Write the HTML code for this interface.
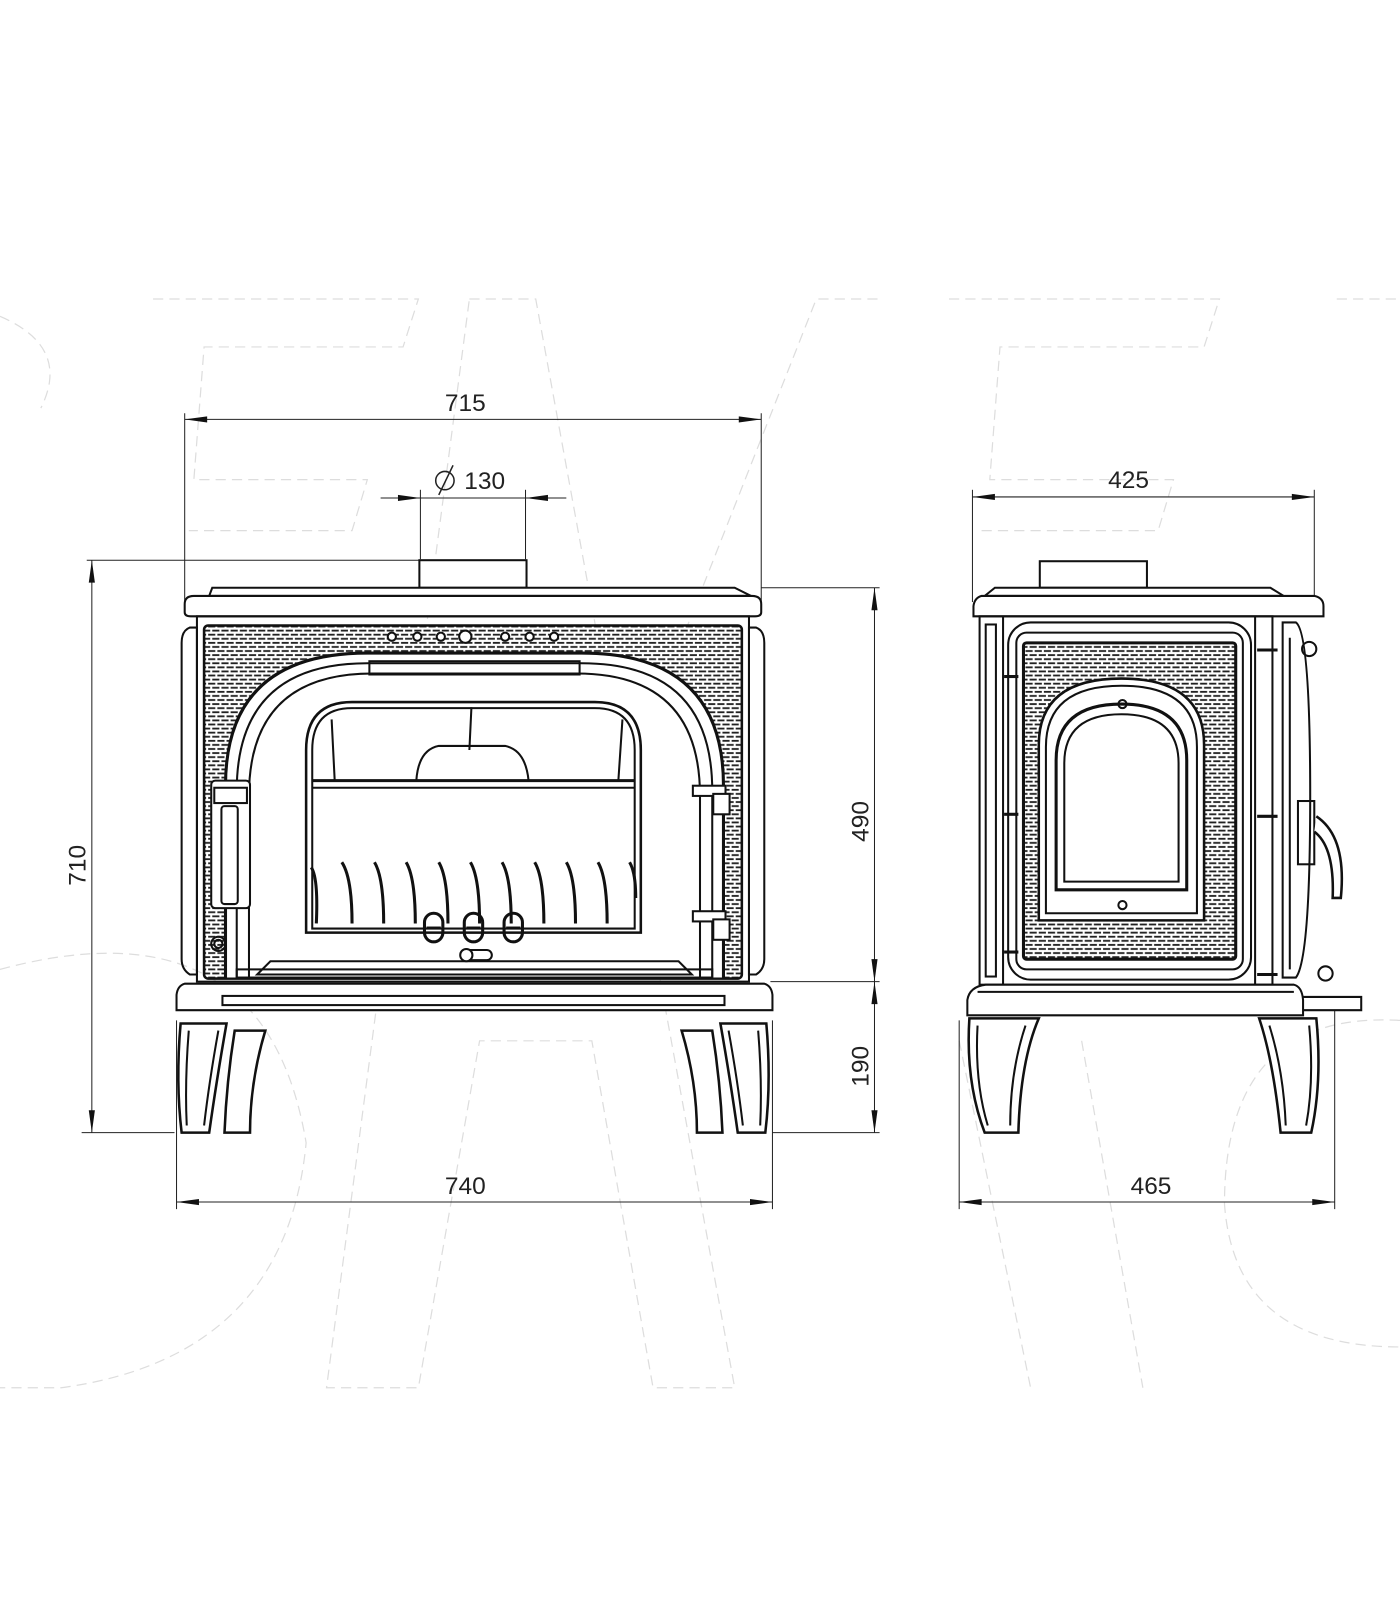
<!DOCTYPE html>
<html><head><meta charset="utf-8"><style>
html,body{margin:0;padding:0;background:#fff;}
svg{display:block;}
text{font-family:"Liberation Sans",Arial,sans-serif;font-size:24px;fill:#222;}
</style></head><body>
<svg width="1400" height="1600" viewBox="0 0 1372 1568" xmlns="http://www.w3.org/2000/svg">
<defs>
<pattern id="brick" width="18" height="8" patternUnits="userSpaceOnUse">
<rect width="18" height="8" fill="#fff"/>
<line x1="1" y1="2" x2="8" y2="2" stroke="#222" stroke-width="1.8"/>
<line x1="10" y1="2" x2="17" y2="2" stroke="#222" stroke-width="1.8"/>
<line x1="-4" y1="6" x2="4" y2="6" stroke="#222" stroke-width="1.8"/>
<line x1="6" y1="6" x2="13" y2="6" stroke="#222" stroke-width="1.8"/>
<line x1="15" y1="6" x2="22" y2="6" stroke="#222" stroke-width="1.8"/>
</pattern>
</defs>
<rect width="1372" height="1568" fill="#fff"/>
<g fill="none" stroke="#ddd" stroke-width="1.2" stroke-dasharray="10 6">
<path d="M150 293 L410 293 L395 340 L200 340 L190 470 L360 470 L345 520 L185 520"/>
<path d="M460 293 L525 293 L720 1360 L640 1360 L580 1020 L470 1020 L410 1360 L320 1360 Z"/>
<path d="M860 293 L800 293 L600 800"/>
<path d="M930 293 L1195 293 L1180 340 L980 340 L970 470 L1150 470 L1135 520 L960 520"/>
<path d="M1310 293 L1372 293"/>
<path d="M0 310 Q70 340 40 400"/>
<path d="M0 950 Q260 880 300 1120 Q280 1330 60 1360 L0 1360"/>
<path d="M1372 1000 Q1200 990 1200 1180 Q1210 1320 1372 1320"/>
<path d="M940 1020 L1010 1360 M1060 1020 L1120 1360"/>
</g>
<g stroke="#222" stroke-width="1" fill="none">
<line x1="181" y1="405" x2="181" y2="590"/><line x1="746" y1="405" x2="746" y2="590"/>
<line x1="181" y1="411" x2="746" y2="411"/>
<line x1="373" y1="488" x2="555" y2="488"/>
<line x1="412" y1="480" x2="412" y2="548"/><line x1="515" y1="480" x2="515" y2="548"/>
<line x1="85" y1="549" x2="411" y2="549"/>
<line x1="746" y1="576" x2="862" y2="576"/>
<line x1="755" y1="962" x2="862" y2="962"/>
<line x1="80" y1="1110" x2="171" y2="1110"/><line x1="757" y1="1110" x2="862" y2="1110"/>
<line x1="90" y1="549" x2="90" y2="1110"/>
<line x1="857" y1="576" x2="857" y2="1110"/>
<line x1="173" y1="1000" x2="173" y2="1185"/><line x1="757" y1="1000" x2="757" y2="1185"/>
<line x1="173" y1="1178" x2="757" y2="1178"/>
<line x1="953" y1="480" x2="953" y2="590"/><line x1="1288" y1="480" x2="1288" y2="600"/>
<line x1="953" y1="487" x2="1288" y2="487"/>
<line x1="940" y1="1000" x2="940" y2="1185"/><line x1="1308" y1="990" x2="1308" y2="1185"/>
<line x1="940" y1="1178" x2="1308" y2="1178"/>
</g>
<g fill="#111">
<path d="M181 411 l22 -3 v6z"/><path d="M746 411 l-22 -3 v6z"/>
<path d="M412 488 l-22 -3 v6z"/><path d="M515 488 l22 -3 v6z"/>
<path d="M90 549 l-3 22 h6z"/><path d="M90 1110 l-3 -22 h6z"/>
<path d="M857 576 l-3 22 h6z"/><path d="M857 962 l-3 -22 h6z"/>
<path d="M857 962 l-3 22 h6z"/><path d="M857 1110 l-3 -22 h6z"/>
<path d="M173 1178 l22 -3 v6z"/><path d="M757 1178 l-22 -3 v6z"/>
<path d="M953 487 l22 -3 v6z"/><path d="M1288 487 l-22 -3 v6z"/>
<path d="M940 1178 l22 -3 v6z"/><path d="M1308 1178 l-22 -3 v6z"/>
</g>
<text x="456" y="403" text-anchor="middle">715</text>
<text x="475" y="479" text-anchor="middle">130</text>
<g fill="none" stroke="#222" stroke-width="1.5"><circle cx="436" cy="471" r="9"/><line x1="430" y1="485" x2="444" y2="456"/></g>
<text transform="translate(84 848) rotate(-90)" text-anchor="middle">710</text>
<text transform="translate(851 805) rotate(-90)" text-anchor="middle">490</text>
<text transform="translate(851 1045) rotate(-90)" text-anchor="middle">190</text>
<text x="456" y="1170" text-anchor="middle">740</text>
<text x="1106" y="478" text-anchor="middle">425</text>
<text x="1128" y="1170" text-anchor="middle">465</text>

<g stroke="#111" stroke-width="2" fill="none">
<rect x="411" y="549" width="105" height="27" fill="#fff"/>
<path d="M208 576 L720 576 L736 584 L205 584 Z" fill="#fff"/>
<path d="M190 584 L737 584 Q746 584 746 592 L746 600 Q746 604 740 604 L187 604 Q181 604 181 600 L181 592 Q181 584 190 584 Z" fill="#fff"/>
<path d="M186 615 L193 615 L193 955 L186 955 Q178 950 178 940 L178 630 Q178 618 186 615 Z"/>
<path d="M741 615 L734 615 L734 955 L741 955 Q749 950 749 940 L749 630 Q749 618 741 615 Z"/>
<rect x="193" y="604" width="541" height="358"/>
<rect x="200" y="613" width="527" height="346" rx="4" fill="url(#brick)" stroke-width="2.5"/>
<path d="M221 958 L221 770 Q221 640 360 640 L570 640 Q709 640 709 770 L709 958" fill="#fff" stroke-width="3"/>
<path d="M232 958 L232 775 Q232 650 360 650 L570 650 Q698 650 698 775 L698 958" fill="#fff"/>
<path d="M244 958 L244 780 Q244 660 365 660 L565 660 Q686 660 686 780 L686 958"/>
<rect x="362" y="648" width="206" height="13"/>
<path d="M252 955 L265 942 L665 942 L678 955 Z"/>
<rect x="232" y="950" width="466" height="8"/>
<path d="M306 910 L306 735 Q306 694 345 694 L583 694 Q622 694 622 735 L622 910 Z" fill="#fff"/>
<path d="M300 914 L300 735 Q300 688 345 688 L583 688 Q628 688 628 735 L628 914 Z" stroke-width="2.5"/>
<line x1="306" y1="765" x2="622" y2="765" stroke-width="3"/><line x1="306" y1="772" x2="622" y2="772"/>
<path d="M408 765 Q410 735 430 731 L495 731 Q515 735 518 765"/>
<path d="M325 705 L328 765 M610 705 L606 765 M462 693 L460 735"/>
<g stroke-width="3">
<path d="M305 850 Q312 860 310 905"/><path d="M335 845 Q345 860 345 905"/><path d="M367 845 Q376 860 376 905"/><path d="M398 845 Q407 860 407 905"/><path d="M430 845 Q439 860 439 905"/><path d="M461 845 Q470 860 470 905"/><path d="M492 845 Q501 860 501 905"/><path d="M524 845 Q533 860 533 905"/><path d="M555 845 Q564 860 564 905"/><path d="M586 845 Q595 860 595 905"/><path d="M617 845 Q623 855 623 880"/>
</g>
<g stroke-width="3"><rect x="416" y="895" width="18" height="28" rx="9"/><rect x="455" y="895" width="18" height="28" rx="9"/><rect x="494" y="895" width="18" height="28" rx="9"/></g>
<line x1="418" y1="909" x2="432" y2="909"/><line x1="457" y1="909" x2="471" y2="909"/><line x1="496" y1="909" x2="510" y2="909"/>
<rect x="452" y="931" width="30" height="10" rx="5" fill="#fff"/><circle cx="457" cy="936" r="6" fill="#fff"/>
<g fill="#fff"><circle cx="384" cy="624" r="4"/><circle cx="409" cy="624" r="4"/><circle cx="432" cy="624" r="4"/><circle cx="456" cy="624" r="6"/><circle cx="495" cy="624" r="4"/><circle cx="519" cy="624" r="4"/><circle cx="543" cy="624" r="4"/></g>
<rect x="207" y="765" width="38" height="125" rx="4" fill="#fff"/>
<rect x="217" y="790" width="16" height="96" rx="3"/>
<rect x="210" y="772" width="32" height="15"/>
<circle cx="214" cy="925" r="7"/><circle cx="214" cy="925" r="4"/>
<g fill="#fff"><rect x="679" y="770" width="32" height="10"/><rect x="699" y="778" width="16" height="20"/><rect x="679" y="893" width="32" height="10"/><rect x="699" y="901" width="16" height="20"/></g>
<path d="M181 964 L749 964 Q756 966 757 975 L757 990 L173 990 L173 975 Q174 966 181 964 Z" fill="#fff"/>
<rect x="218" y="976" width="492" height="9"/>
<g stroke-width="2.5" fill="#fff">
<path d="M177 1003 L222 1003 Q212 1060 205 1110 L178 1110 Q172 1060 177 1003 Z"/>
<path d="M230 1010 L260 1010 Q245 1060 245 1110 L220 1110 Q222 1060 230 1010 Z"/>
<path d="M751 1003 L706 1003 Q716 1060 723 1110 L750 1110 Q756 1060 751 1003 Z"/>
<path d="M698 1010 L668 1010 Q683 1060 683 1110 L708 1110 Q706 1060 698 1010 Z"/>
</g>
<path d="M185 1010 Q181 1060 183 1103 M214 1010 Q205 1060 200 1103 M743 1010 Q747 1060 745 1103 M714 1010 Q723 1060 728 1103"/>
</g>

<g stroke="#111" stroke-width="2" fill="none">
<rect x="1019" y="550" width="105" height="26" fill="#fff"/>
<path d="M975 576 L1245 576 L1258 584 L965 584 Z" fill="#fff"/>
<path d="M962 584 L1288 584 Q1297 586 1297 594 L1297 604 L954 604 L954 594 Q955 586 962 584 Z" fill="#fff"/>
<rect x="960" y="604" width="287" height="361"/>
<rect x="966" y="612" width="10" height="345"/>
<line x1="983" y1="604" x2="983" y2="965"/><line x1="1230" y1="604" x2="1230" y2="965"/>
<rect x="988" y="610" width="238" height="350" rx="22" fill="#fff"/>
<rect x="996" y="620" width="222" height="330" rx="10"/>
<rect x="1003" y="630" width="208" height="310" rx="3" fill="url(#brick)" stroke-width="3"/>
<path d="M1018 902 L1018 730 Q1018 665 1099 665 Q1180 665 1180 730 L1180 902 Z" fill="#fff" stroke-width="2.5"/>
<path d="M1025 895 L1025 732 Q1025 672 1099 672 Q1173 672 1173 732 L1173 895 Z"/>
<path d="M1035 872 L1035 745 Q1035 690 1099 690 Q1163 690 1163 745 L1163 872 Z" stroke-width="3"/>
<path d="M1043 864 L1043 748 Q1043 700 1099 700 Q1155 700 1155 748 L1155 864 Z"/>
<circle cx="1100" cy="690" r="4"/><circle cx="1100" cy="887" r="4"/>
<path d="M1270 610 L1257 610 L1257 958 L1270 958 Q1284 940 1284 780 Q1284 620 1270 610 Z" fill="#fff"/>
<path d="M1264 625 L1264 950"/>
<circle cx="1283" cy="636" r="7"/><circle cx="1299" cy="954" r="7"/>
<rect x="1272" y="785" width="16" height="62"/>
<path d="M1290 800 Q1320 820 1314 880 L1306 880 Q1308 830 1288 815" stroke-width="2.5" fill="#fff"/>
<g stroke-width="3"><line x1="984" y1="663" x2="998" y2="663"/><line x1="984" y1="798" x2="998" y2="798"/><line x1="984" y1="933" x2="998" y2="933"/>
<line x1="1232" y1="637" x2="1252" y2="637"/><line x1="1232" y1="800" x2="1252" y2="800"/><line x1="1232" y1="955" x2="1252" y2="955"/></g>
<path d="M966 965 L1268 965 Q1276 967 1277 980 L1277 995 L948 995 L948 980 Q950 967 966 965 Z" fill="#fff"/>
<path d="M1277 977 L1334 977 L1334 990 L1277 990"/>
<line x1="958" y1="972" x2="1268" y2="972"/>
<g stroke-width="2.5" fill="#fff">
<path d="M950 998 L1018 998 Q1000 1040 998 1110 L965 1110 Q946 1060 950 998 Z"/>
<path d="M1234 998 L1290 998 Q1296 1060 1285 1110 L1255 1110 Q1248 1040 1234 998 Z"/>
</g>
<path d="M958 1005 Q955 1060 968 1103 M1005 1005 Q990 1050 990 1103 M1244 1005 Q1258 1050 1260 1103 M1283 1005 Q1288 1060 1280 1103"/>
</g>
</svg>
</body></html>
